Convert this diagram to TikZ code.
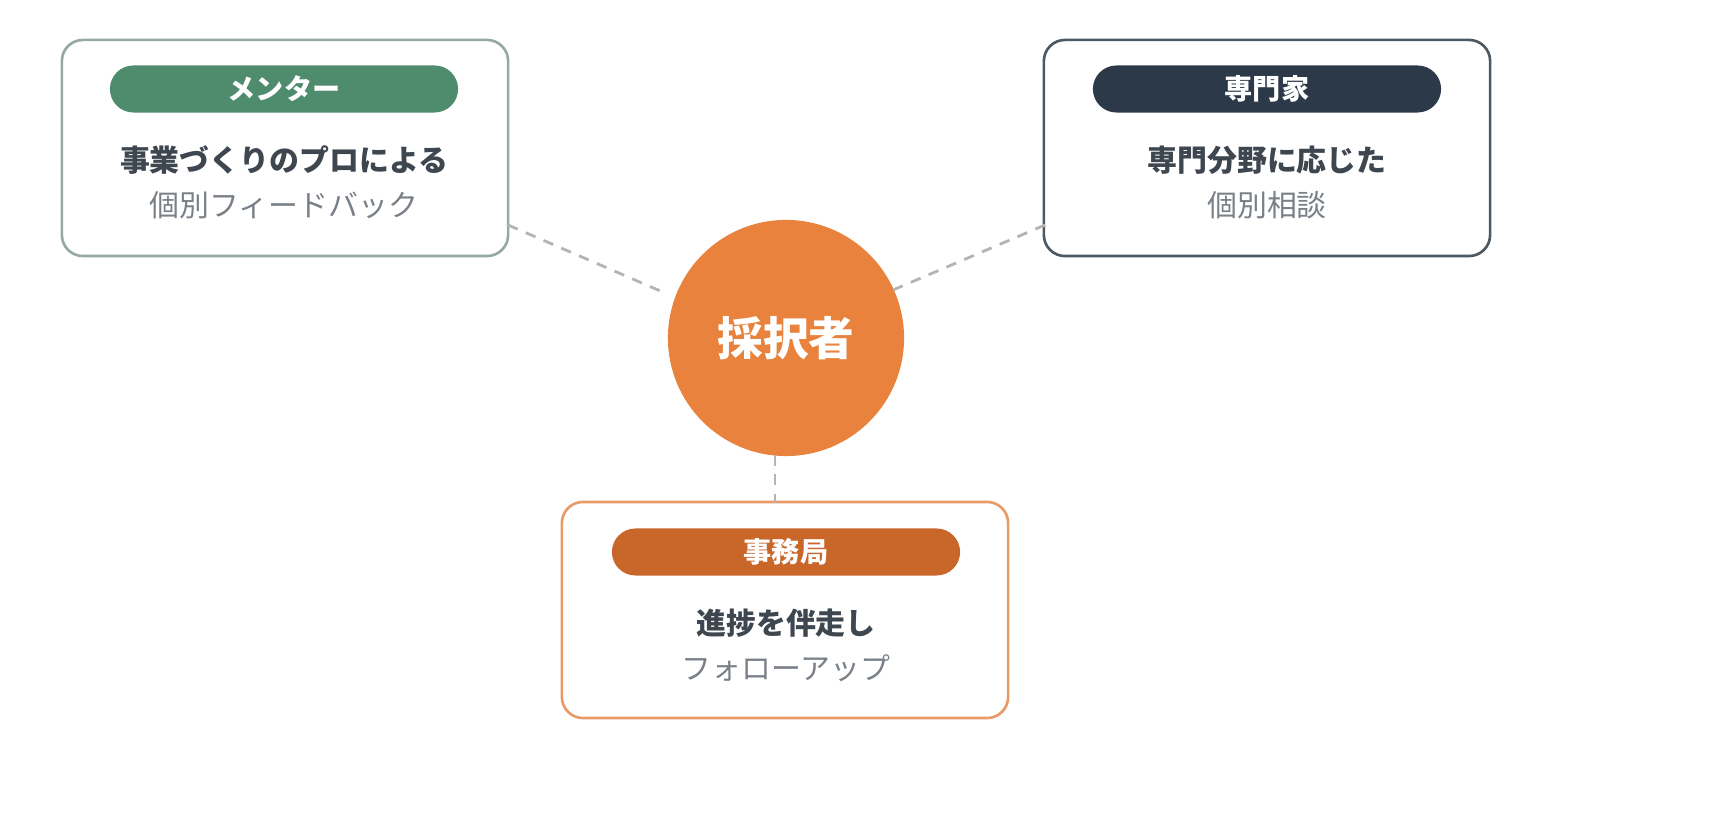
\documentclass[tikz,border=0pt]{standalone}
\usepackage{fontspec}
\setmainfont{Noto Sans CJK JP}
\usetikzlibrary{positioning}
\definecolor{mentorgreen}{HTML}{4F8B6D}
\definecolor{expertnavy}{HTML}{2B3949}
\definecolor{hubOrange}{HTML}{E8823C}
\definecolor{officeOrange}{HTML}{C9662A}
\definecolor{officeLine}{HTML}{E99A66}
\definecolor{mentorLine}{HTML}{94AAA2}
\definecolor{expertLine}{HTML}{4C5862}
\definecolor{bodyText}{HTML}{3E4650}
\definecolor{subText}{HTML}{7A8088}
\definecolor{dashGray}{HTML}{B4B4B4}

\tikzset{
  card/.style={draw=#1, line width=0.75pt, rounded corners=6pt, minimum width=4.46cm, minimum height=2.16cm, fill=white},
  pill/.style={fill=#1, rounded corners=2.35mm, minimum width=3.48cm, minimum height=0.47cm, inner sep=0pt, text=white, font=\bfseries\fontsize{8}{9}\selectfont},
  headline/.style={text=bodyText, font=\bfseries\fontsize{8.5}{10}\selectfont, inner sep=0pt},
  subline/.style={text=subText, font=\fontsize{8.5}{10}\selectfont, inner sep=0pt},
  link/.style={draw=dashGray, line width=0.8pt, dash pattern=on 3pt off 2.5pt}
}

\begin{document}
\begin{tikzpicture}[x=0.01cm,y=-0.01cm]
\useasboundingbox (0,0) rectangle (1718,828);
% hub
\node (hub) [circle, fill=hubOrange, minimum size=2.36cm, inner sep=0pt, text=white, font=\bfseries\fontsize{13}{15}\selectfont] at (786,338) {採択者};
% cards
\node (mentor) [card=mentorLine] at (285,148) {};
\node (expert) [card=expertLine] at (1267,148) {};
\node (office) [card=officeLine] at (785,610) {};
% labels
\node (mentorTag) [pill=mentorgreen] at (284,89) {メンター};
\node (mentorHead) [headline] at (284,160) {事業づくりのプロによる};
\node (mentorSub) [subline] at (284,205) {個別フィードバック};
\node (expertTag) [pill=expertnavy] at (1267,89) {専門家};
\node (expertHead) [headline] at (1267,160) {専門分野に応じた};
\node (expertSub) [subline] at (1267,205) {個別相談};
\node (officeTag) [pill=officeOrange] at (786,552) {事務局};
\node (officeHead) [headline] at (786,623) {進捗を伴走し};
\node (officeSub) [subline] at (786,668) {フォローアップ};
% links
\coordinate (mentorEnd) at (508,225);
\coordinate (expertEnd) at (1045,225);
\coordinate (officeEnd) at (775,503);
\coordinate (hubL) at (665,293);
\coordinate (hubR) at (893,290);
\coordinate (hubB) at (775,455);
\draw [link] (mentorEnd) -- (hubL);
\draw [link] (expertEnd) -- (hubR);
\draw [link] (hubB) -- (officeEnd);
\end{tikzpicture}
\end{document}
